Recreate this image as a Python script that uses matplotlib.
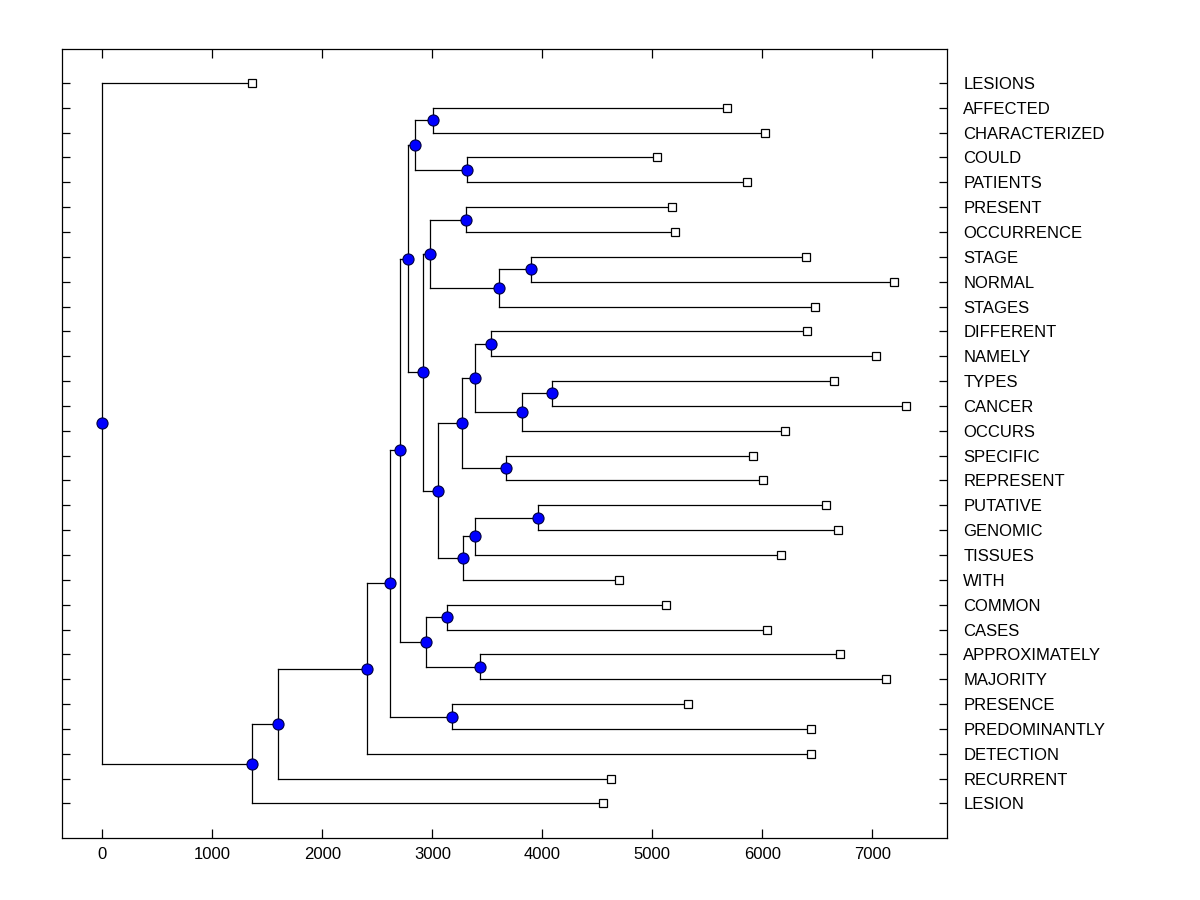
import numpy as np
import matplotlib
matplotlib.use('Agg')
import matplotlib.pyplot as plt

plt.rcParams['font.family'] = ['Liberation Sans', 'DejaVu Sans']

#%% data: leaves top to bottom, with their end positions
leaf_names = ['LESIONS', 'AFFECTED', 'CHARACTERIZED', 'COULD', 'PATIENTS',
              'PRESENT', 'OCCURRENCE', 'STAGE', 'NORMAL', 'STAGES',
              'DIFFERENT', 'NAMELY', 'TYPES', 'CANCER', 'OCCURS',
              'SPECIFIC', 'REPRESENT', 'PUTATIVE', 'GENOMIC', 'TISSUES',
              'WITH', 'COMMON', 'CASES', 'APPROXIMATELY', 'MAJORITY',
              'PRESENCE', 'PREDOMINANTLY', 'DETECTION', 'RECURRENT', 'LESION']
leaf_x = [1364, 5682, 6027, 5045, 5864,
          5182, 5209, 6400, 7200, 6482,
          6409, 7036, 6655, 7309, 6209,
          5918, 6009, 6582, 6691, 6173,
          4700, 5127, 6045, 6709, 7127,
          5327, 6445, 6445, 4627, 4555]

# merges, bottom-up: (left child, right child, merge position)
merge_left = ['AFFECTED', 'COULD', 'n1', 'PRESENT', 'STAGE', 'n5', 'n4',
              'DIFFERENT', 'TYPES', 'n9', 'n8', 'SPECIFIC', 'n11',
              'PUTATIVE', 'n14', 'n15', 'n13', 'n7', 'n3',
              'COMMON', 'APPROXIMATELY', 'n20', 'n19', 'PRESENCE',
              'n23', 'n25', 'n26', 'n27', 'LESIONS']
merge_right = ['CHARACTERIZED', 'PATIENTS', 'n2', 'OCCURRENCE', 'NORMAL',
               'STAGES', 'n6', 'NAMELY', 'CANCER', 'OCCURS', 'n10',
               'REPRESENT', 'n12', 'GENOMIC', 'TISSUES', 'WITH', 'n16',
               'n17', 'n18', 'CASES', 'MAJORITY', 'n21', 'n22',
               'PREDOMINANTLY', 'n24', 'DETECTION', 'RECURRENT', 'LESION',
               'n28']
merge_x = [3009, 3318, 2845, 3309, 3900, 3609, 2982,
           3536, 4091, 3818, 3388, 3673, 3273,
           3964, 3388, 3282, 3055, 2918, 2782,
           3136, 3436, 2945, 2709, 3182,
           2618, 2409, 1600, 1364, 0]

#%% positions
n_leaf = len(leaf_names)
pos = {}
for i, name in enumerate(leaf_names):
    pos[name] = (leaf_x[i], n_leaf - 1 - i)

for k in range(len(merge_x)):
    yl = pos[merge_left[k]][1]
    yr = pos[merge_right[k]][1]
    pos[f'n{k+1}'] = (merge_x[k], (yl + yr) / 2)

#%% plotting
fig = plt.figure(figsize=(12, 9), dpi=100)
ax = fig.add_axes([0.0519, 0.0686, 0.737, 0.8766])

for k in range(len(merge_x)):
    x = merge_x[k]
    xl, yl = pos[merge_left[k]]
    xr, yr = pos[merge_right[k]]
    ax.plot([x, x], [yl, yr], color='black', lw=0.9, zorder=1)
    ax.plot([x, xl], [yl, yl], color='black', lw=0.9, zorder=1)
    ax.plot([x, xr], [yr, yr], color='black', lw=0.9, zorder=1)

node_xy = np.array([pos[f'n{k+1}'] for k in range(len(merge_x))])
ax.plot(node_xy[:, 0], node_xy[:, 1], 'o', ms=8, color='#0000ff',
        mec='#000040', mew=0.8, zorder=3)
leaf_xy = np.array([pos[n] for n in leaf_names])
ax.plot(leaf_xy[:, 0], leaf_xy[:, 1], 's', ms=6, mfc='white',
        mec='black', mew=0.9, zorder=3)

ax.set_xlim(-364, 7676)
ax.set_ylim(-1.4, n_leaf - 1 + 1.35)
ax.set_xticks(np.arange(0, 8000, 1000))
ax.set_yticks(np.arange(n_leaf))
ax.set_yticklabels(leaf_names[::-1])

ax.tick_params(axis='x', direction='in', length=6.5, width=0.9,
               top=True, labelsize=12, pad=6)
ax.tick_params(axis='y', direction='in', length=6, width=0.9,
               left=True, right=True, labelleft=False, labelright=True,
               labelsize=12, pad=12)
for s in ax.spines.values():
    s.set_linewidth(0.9)

plt.savefig('out.png', dpi=100)
